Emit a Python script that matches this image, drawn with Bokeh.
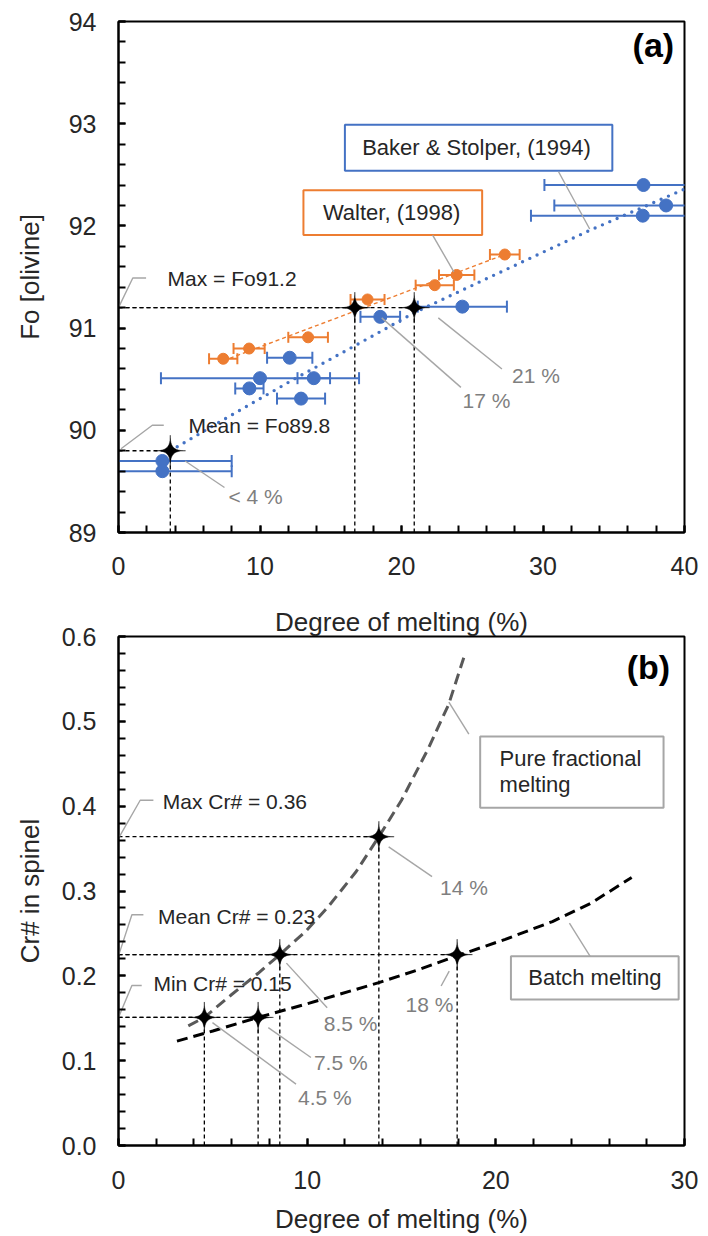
import numpy as np
from bokeh.plotting import figure
from bokeh.models import Range1d, SingleIntervalTicker, NumeralTickFormatter, LinearAxis, FixedTicker
from bokeh.layouts import column
from bokeh.core.properties import value
from bokeh.embed import file_html
from bokeh.resources import INLINE

FONT = "Liberation Sans"
BLUE = "#4472C4"
ORANGE = "#ED7D31"
GREY = "#A6A6A6"
TXT = "#262626"
PCT = "#7F7F7F"

# ---------------- Panel (a): olivine Fo vs degree of melting ----------------
bs_melt = [37.1, 38.7, 37.05, 24.3, 18.5, 12.1, 10.0, 13.8, 9.25, 12.9, 3.1, 3.1]
bs_fo = [92.4, 92.2, 92.1, 91.21, 91.11, 90.71, 90.51, 90.51, 90.41, 90.31, 89.7, 89.6]
bs_err = [7.0, 7.9, 7.9, 3.15, 1.4, 1.6, 7.0, 1.15, 1.0, 1.7, 4.9, 4.9]

wa_melt = [7.4, 9.23, 13.4, 17.6, 22.35, 23.9, 27.3]
wa_fo = [90.70, 90.80, 90.91, 91.28, 91.42, 91.52, 91.72]
wa_err = [1.0, 1.1, 1.4, 1.2, 1.35, 1.25, 1.05]

bs_trend_melt = [3.66, 8.0, 12.4, 17.0, 20.9, 25.8, 33.2, 40.0]
bs_trend_fo = [89.80, 90.15, 90.50, 90.85, 91.15, 91.47, 91.95, 92.36]
wa_trend_melt = [7.4, 27.3]
wa_trend_fo = [90.68, 91.72]

a_star_melt = [3.66, 16.7, 20.9]
a_star_fo = [89.8, 91.2, 91.2]
a_star_lbl = ["< 4 %", "17 %", "21 %"]

# ---------------- Panel (b): spinel Cr# vs degree of melting ----------------
frac_melt = [3.7, 4.55, 6.0, 7.4, 8.55, 9.9, 11.1, 12.6, 13.8, 15.0, 16.4, 17.5, 18.3]
frac_cr = [0.141, 0.151, 0.178, 0.203, 0.225, 0.252, 0.281, 0.323, 0.364, 0.407, 0.467, 0.520, 0.575]
batch_melt = [3.1, 5.0, 7.4, 10.0, 13.8, 16.0, 18.0, 20.5, 23.0, 25.0, 27.2]
batch_cr = [0.123, 0.135, 0.151, 0.167, 0.192, 0.208, 0.224, 0.243, 0.264, 0.285, 0.316]

b_star_melt = [4.55, 7.4, 8.55, 13.8, 17.95]
b_star_cr = [0.151, 0.151, 0.225, 0.364, 0.225]
b_star_lbl = ["4.5 %", "7.5 %", "8.5 %", "14 %", "18 %"]

XTITLE = "Degree of melting (%)"


def style(p, xint, yint, yfmt=None, xstand=24, ystand=22, ytitle_stand=14, xtitle_stand=12):
    p.xgrid.visible = False
    p.ygrid.visible = False
    p.outline_line_color = "black"
    p.outline_line_width = 2
    p.outline_line_alpha = 1
    p.background_fill_color = "white"
    p.border_fill_color = "white"
    p.xaxis.ticker = SingleIntervalTicker(interval=xint, num_minor_ticks=5)
    p.yaxis.ticker = SingleIntervalTicker(interval=yint, num_minor_ticks=5)
    if yfmt:
        p.yaxis.formatter = NumeralTickFormatter(format=yfmt)
    for ax in (p.xaxis, p.yaxis):
        ax.axis_line_width = 2
        ax.axis_line_color = "black"
        ax.major_tick_in = 7
        ax.major_tick_out = 0
        ax.minor_tick_in = 7
        ax.minor_tick_out = 0
        ax.major_tick_line_width = 2
        ax.minor_tick_line_width = 2
        ax.major_label_text_font = FONT
        ax.major_label_text_font_size = "25px"
        ax.major_label_text_color = TXT
        ax.axis_label_text_font = FONT
        ax.axis_label_text_font_size = "26px"
        ax.axis_label_text_font_style = "normal"
        ax.axis_label_text_color = TXT
    p.xaxis.major_label_standoff = xstand
    p.xaxis.axis_label_standoff = xtitle_stand
    p.yaxis.major_label_standoff = ystand
    p.yaxis.axis_label_standoff = ytitle_stand


def star_shapes(xs, ys, px_x, px_y, R=15.5, power=4.5, n=72):
    t = np.linspace(0, 2 * np.pi, n, endpoint=False)
    c, s = np.cos(t), np.sin(t)
    ox = R * np.sign(c) * np.abs(c) ** power
    oy = R * np.sign(s) * np.abs(s) ** power
    return ([list(x + ox * px_x) for x in xs], [list(y + oy * px_y) for y in ys])


def txt(p, x, y, s, size="21px", color=TXT, align="left", style_="normal"):
    p.text(x=[x], y=[y], text=[s], text_font=value(FONT), text_font_size=size,
           text_color=color, text_align=align, text_baseline="middle",
           text_font_style=style_)


def leader(p, xs, ys):
    p.line(xs, ys, line_color=GREY, line_width=1.4)


# ---------------- figure (a) ----------------
pa = figure(width=708, height=603, x_range=Range1d(0, 40), y_range=Range1d(89, 94),
            output_backend="svg", toolbar_location=None,
            min_border_left=109, min_border_right=24, min_border_top=21, min_border_bottom=71,
            y_axis_label="Fo [olivine]")
style(pa, 10, 1, xstand=24, ytitle_stand=21)
ax_px = 40 / 575.0
ay_px = 5 / 511.0

# reference dashed lines from stars
pa.segment(x0=[0] * len(a_star_melt), y0=a_star_fo, x1=a_star_melt, y1=a_star_fo,
           line_color="black", line_width=1.3, line_dash="4 3")
pa.segment(x0=a_star_melt, y0=[89] * len(a_star_melt), x1=a_star_melt, y1=a_star_fo,
           line_color="black", line_width=1.3, line_dash="4 3")

# trend lines
pa.line(wa_trend_melt, wa_trend_fo, line_color=ORANGE, line_width=1.4, line_dash="4 3")
pa.line(bs_trend_melt, bs_trend_fo, line_color=BLUE, line_width=3.4, line_dash="0 8",
        line_cap="round")

# error bars
for xs, ys, es, col, cap in ((bs_melt, bs_fo, bs_err, BLUE, 12), (wa_melt, wa_fo, wa_err, ORANGE, 11)):
    lo = [x - e for x, e in zip(xs, es)]
    hi = [x + e for x, e in zip(xs, es)]
    pa.segment(x0=lo, y0=ys, x1=hi, y1=ys, line_color=col, line_width=2)
    pa.scatter(x=lo + hi, y=list(ys) + list(ys), marker="dash", angle=np.pi / 2, size=cap,
               line_color=col, line_width=2)

pa.scatter(bs_melt, bs_fo, size=13, fill_color=BLUE, line_color=BLUE)
pa.scatter(wa_melt, wa_fo, size=11, fill_color=ORANGE, line_color=ORANGE)

# boxes
pa.quad(left=[16.0], right=[34.9], bottom=[92.54], top=[92.99], fill_color="white",
        line_color=BLUE, line_width=2)
txt(pa, 25.3, 92.765, "Baker & Stolper, (1994)", size="22px", align="center")
leader(pa, [31.1, 33.3], [92.53, 91.97])
pa.quad(left=[13.07], right=[25.7], bottom=[91.91], top=[92.35], fill_color="white",
        line_color=ORANGE, line_width=2)
txt(pa, 19.3, 92.13, "Walter, (1998)", size="22px", align="center")
leader(pa, [22.2, 23.7], [91.91, 91.55])

# callouts
leader(pa, [0.0, 1.01, 1.95], [91.2, 91.49, 91.49])
txt(pa, 3.47, 91.49, "Max = Fo91.2")
leader(pa, [0.18, 2.39, 3.2], [89.82, 90.05, 90.05])
txt(pa, 4.94, 90.05, "Mean = Fo89.8")

leader(pa, [4.71, 7.49], [89.7, 89.44])
leader(pa, [18.6, 24.2], [91.1, 90.42])
leader(pa, [22.6, 27.1], [91.1, 90.6])
for lx, ly, s in zip([9.69, 26.0, 29.5], [89.35, 90.29, 90.54], a_star_lbl):
    txt(pa, lx, ly, s, color=PCT, align="center")

sx, sy = star_shapes(a_star_melt, a_star_fo, ax_px, ay_px)
pa.patches(sx, sy, fill_color="black", line_color="black", line_width=0.5)

txt(pa, 37.8, 93.77, "(a)", size="34px", color="black", align="center", style_="bold")

# ---------------- figure (b) ----------------
pb = figure(width=708, height=633, x_range=Range1d(0, 30), y_range=Range1d(0, 0.600001),
            output_backend="svg", toolbar_location=None,
            min_border_left=118, min_border_right=16, min_border_top=31, min_border_bottom=91,
            x_axis_label=XTITLE, y_axis_label="Cr# in spinel")
style(pb, 10, 0.1, "0.0", xstand=25, ytitle_stand=14, xtitle_stand=12)
bx_px = 30 / 574.0
by_px = 0.6 / 511.0

# panel (a)'s x-axis title, shown in the gap above panel (b)
top_title = LinearAxis(ticker=FixedTicker(ticks=[]), axis_label=XTITLE,
                       axis_line_color=None, major_tick_line_color=None,
                       minor_tick_line_color=None, major_label_standoff=0,
                       axis_label_standoff=0, axis_label_text_font=FONT,
                       axis_label_text_font_size="26px", axis_label_text_font_style="normal",
                       axis_label_text_color=TXT)
pb.add_layout(top_title, "above")

pb.segment(x0=[0] * len(b_star_melt), y0=b_star_cr, x1=b_star_melt, y1=b_star_cr,
           line_color="black", line_width=1.3, line_dash="4 3")
pb.segment(x0=b_star_melt, y0=[0] * len(b_star_melt), x1=b_star_melt, y1=b_star_cr,
           line_color="black", line_width=1.3, line_dash="4 3")

pb.line(frac_melt, frac_cr, line_color="#595959", line_width=3, line_dash="11 6")
pb.line(batch_melt, batch_cr, line_color="black", line_width=3, line_dash="11 6")

# boxes
pb.quad(left=[19.17], right=[28.89], bottom=[0.398], top=[0.482], fill_color="white",
        line_color=GREY, line_width=2)
txt(pb, 20.2, 0.456, "Pure fractional", size="22px")
txt(pb, 20.2, 0.4255, "melting", size="22px")
leader(pb, [18.57, 17.51], [0.485, 0.5225])
pb.quad(left=[20.8], right=[29.69], bottom=[0.172], top=[0.223], fill_color="white",
        line_color=GREY, line_width=2)
txt(pb, 25.25, 0.1975, "Batch melting", size="22px", align="center")
leader(pb, [25.0, 23.9], [0.223, 0.262])

# callouts
leader(pb, [0.05, 1.15, 1.85], [0.364, 0.407, 0.407])
txt(pb, 2.35, 0.406, "Max Cr# = 0.36")
leader(pb, [0.02, 0.71, 1.32], [0.225, 0.272, 0.272])
txt(pb, 2.1, 0.270, "Mean Cr# = 0.23")
leader(pb, [0.0, 0.71, 1.23], [0.151, 0.1886, 0.1886])
txt(pb, 1.85, 0.1906, "Min Cr# = 0.15")

leader(pb, [4.98, 9.41], [0.1448, 0.0724])
leader(pb, [7.94, 10.2], [0.139, 0.1037])
leader(pb, [8.9, 11.06], [0.215, 0.1624])
leader(pb, [14.32, 16.62], [0.352, 0.317])
leader(pb, [17.53, 17.1], [0.2055, 0.188])
for lx, ly, s in zip([10.94, 11.78, 12.3, 18.31, 16.48],
                     [0.0568, 0.098, 0.1436, 0.3037, 0.1663], b_star_lbl):
    txt(pb, lx, ly, s, color=PCT, align="center")

sx, sy = star_shapes(b_star_melt, b_star_cr, bx_px, by_px)
pb.patches(sx, sy, fill_color="black", line_color="black", line_width=0.5)

txt(pb, 28.09, 0.5636, "(b)", size="34px", color="black", align="center", style_="bold")

layout = column(pa, pb, spacing=0)
open("out.html", "w").write(file_html(layout, INLINE))
